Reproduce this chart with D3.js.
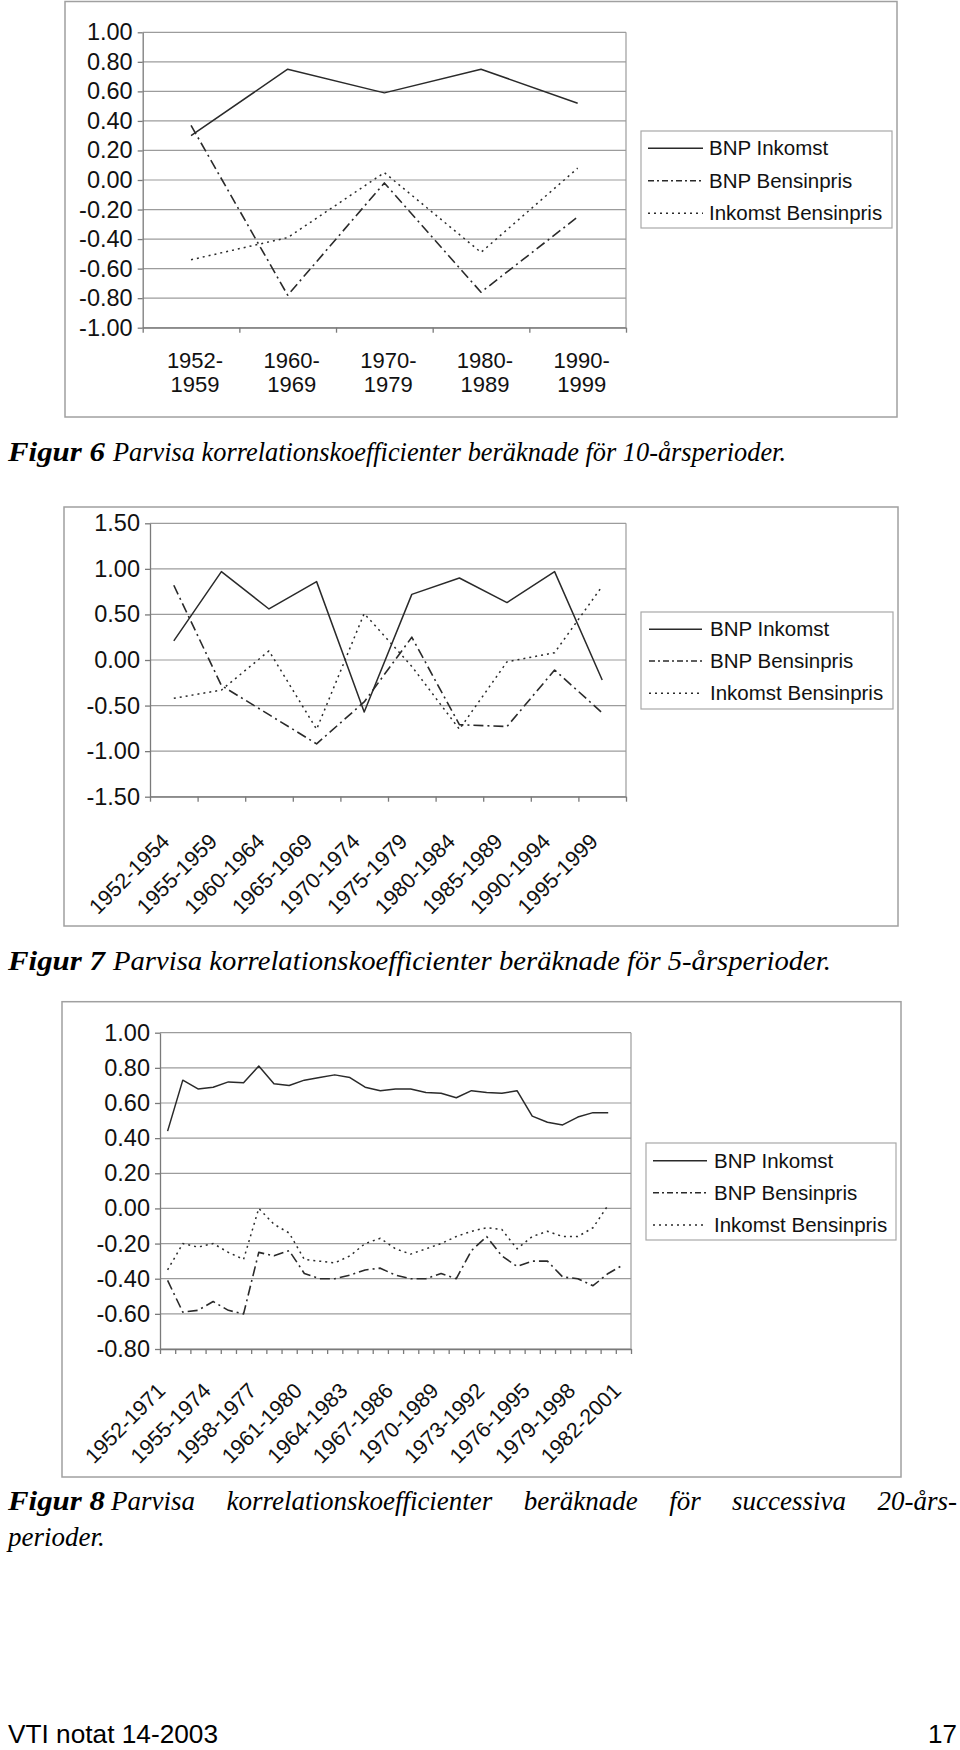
<!DOCTYPE html>
<html><head><meta charset="utf-8">
<script src="https://cdn.jsdelivr.net/npm/d3@7"></script>
<style>body{margin:0;background:#fff}svg{display:block}</style>
</head><body>
<svg id="page" width="960" height="1750"></svg>
<script>
// ---------------- DATA ----------------
const seriesNames = ["BNP Inkomst", "BNP Bensinpris", "Inkomst Bensinpris"];

// Figur 6 – 10-year periods
const fig6Periods = ["1952-1959", "1960-1969", "1970-1979", "1980-1989", "1990-1999"];
const fig6BnpInkomst = [0.30, 0.75, 0.59, 0.75, 0.52];
const fig6BnpBensinpris = [0.37, -0.78, -0.02, -0.76, -0.25];
const fig6InkomstBensinpris = [-0.54, -0.39, 0.05, -0.49, 0.08];
const fig6YTicks = [-1.0, -0.8, -0.6, -0.4, -0.2, 0, 0.2, 0.4, 0.6, 0.8, 1.0];

// Figur 7 – 5-year periods
const fig7Periods = ["1952-1954", "1955-1959", "1960-1964", "1965-1969", "1970-1974",
  "1975-1979", "1980-1984", "1985-1989", "1990-1994", "1995-1999"];
const fig7BnpInkomst = [0.21, 0.97, 0.56, 0.86, -0.57, 0.72, 0.90, 0.63, 0.97, -0.22];
const fig7BnpBensinpris = [0.82, -0.28, -0.60, -0.92, -0.46, 0.25, -0.71, -0.73, -0.11, -0.58];
const fig7InkomstBensinpris = [-0.42, -0.33, 0.10, -0.76, 0.51, -0.07, -0.76, -0.02, 0.08, 0.81];
const fig7YTicks = [-1.5, -1.0, -0.5, 0, 0.5, 1.0, 1.5];

// Figur 8 – successive 20-year periods
const fig8Periods = ["1952-1971", "1953-1972", "1954-1973", "1955-1974", "1956-1975", "1957-1976",
  "1958-1977", "1959-1978", "1960-1979", "1961-1980", "1962-1981", "1963-1982", "1964-1983",
  "1965-1984", "1966-1985", "1967-1986", "1968-1987", "1969-1988", "1970-1989", "1971-1990",
  "1972-1991", "1973-1992", "1974-1993", "1975-1994", "1976-1995", "1977-1996", "1978-1997",
  "1979-1998", "1980-1999", "1981-2000", "1982-2001"];
const fig8BnpInkomst = [0.44, 0.73, 0.68, 0.69, 0.72, 0.715, 0.81, 0.71, 0.70, 0.73, 0.745, 0.76,
  0.745, 0.69, 0.67, 0.68, 0.68, 0.66, 0.655, 0.63, 0.67, 0.66, 0.655, 0.67, 0.525, 0.49, 0.475,
  0.52, 0.545, 0.545];
const fig8BnpBensinpris = [-0.41, -0.59, -0.58, -0.53, -0.58, -0.60, -0.25, -0.27, -0.24, -0.37,
  -0.40, -0.40, -0.38, -0.35, -0.34, -0.38, -0.40, -0.40, -0.37, -0.40, -0.24, -0.16, -0.27,
  -0.33, -0.30, -0.30, -0.39, -0.40, -0.44, -0.37, -0.32];
const fig8InkomstBensinpris = [-0.35, -0.20, -0.22, -0.20, -0.25, -0.29, 0.00, -0.09, -0.14, -0.29,
  -0.30, -0.31, -0.27, -0.20, -0.17, -0.23, -0.26, -0.23, -0.20, -0.16, -0.13, -0.11, -0.12,
  -0.23, -0.16, -0.13, -0.16, -0.16, -0.11, 0.02];
const fig8YTicks = [-0.8, -0.6, -0.4, -0.2, 0, 0.2, 0.4, 0.6, 0.8, 1.0];

const captionBold = ["Figur 6", "Figur 7", "Figur 8"];
const captionRest = [
  "Parvisa korrelationskoefficienter beräknade för 10-årsperioder.",
  "Parvisa korrelationskoefficienter beräknade för 5-årsperioder."
];
const caption8Words = ["Parvisa", "korrelationskoefficienter", "beräknade", "för", "successiva", "20-års-"];
const caption8Line2 = "perioder.";
const footerLeft = "VTI notat 14-2003";
const footerRight = "17";

// ---------------- STYLE ----------------
const SANS = "'Liberation Sans', Arial, sans-serif";
const SERIF = "'Liberation Serif', 'Times New Roman', serif";
const seriesStyle = [
  {dash: null, width: 1.5},
  {dash: "10,4,2,4", width: 1.6},
  {dash: "2,4", width: 1.5}
];
const legendDash = [null, "6,3,2,3", "2,4"];
const LINE_COLOR = "#2a2a2a";
const GRID = "#9c9c9c";
const AXIS = "#7a7a7a";

const svg = d3.select("#page");

function drawChart(cfg) {
  const g = svg.append("g");
  const P = cfg.plot;
  g.append("rect")
    .attr("x", cfg.frame[0]).attr("y", cfg.frame[1])
    .attr("width", cfg.frame[2] - cfg.frame[0]).attr("height", cfg.frame[3] - cfg.frame[1])
    .attr("fill", "none").attr("stroke", "#a0a0a0").attr("stroke-width", 1.5);

  const x = d3.scaleBand().domain(cfg.categories).range([P.left, P.right]);
  const xi = d3.scaleLinear().domain([0, cfg.categories.length]).range([P.left, P.right]);
  const y = d3.scaleLinear().domain(cfg.yDomain).range([P.bottom, P.top]);
  const cx = c => x(c) + x.bandwidth() / 2;

  g.append("g").selectAll("line").data(cfg.yTicks).join("line")
    .attr("x1", P.left).attr("x2", P.right)
    .attr("y1", d => y(d)).attr("y2", d => y(d))
    .attr("stroke", GRID).attr("stroke-width", 1.2);
  g.append("line").attr("x1", P.right).attr("x2", P.right)
    .attr("y1", P.top).attr("y2", P.bottom).attr("stroke", GRID).attr("stroke-width", 1.2);

  const ya = g.append("g").attr("transform", `translate(${P.left},0)`)
    .call(d3.axisLeft(y).tickValues(cfg.yTicks).tickFormat(d => d.toFixed(2))
      .tickSize(5).tickSizeOuter(0).tickPadding(cfg.yPad));
  ya.selectAll("path,line").attr("stroke", AXIS).attr("stroke-width", 1.3);
  ya.selectAll("text").attr("font-family", SANS).attr("font-size", cfg.yFont).attr("fill", "#111");

  const xa = g.append("g").attr("transform", `translate(0,${P.bottom})`)
    .call(d3.axisBottom(xi).tickValues(d3.range(cfg.categories.length + 1))
      .tickFormat("").tickSize(5).tickSizeOuter(0));
  xa.selectAll("path,line").attr("stroke", AXIS).attr("stroke-width", 1.3);

  const labCats = cfg.categories.filter((c, i) => i % cfg.labelEvery === 0);
  if (cfg.labelMode === "twoLine") {
    const t = g.append("g").selectAll("text").data(labCats).join("text")
      .attr("font-family", SANS).attr("font-size", cfg.xFont).attr("fill", "#111")
      .attr("text-anchor", "middle");
    t.append("tspan").attr("x", d => cfg.labelDx + cx(d)).attr("y", P.bottom + cfg.labelDy1)
      .text(d => d.split("-")[0] + "-");
    t.append("tspan").attr("x", d => cfg.labelDx + cx(d)).attr("y", P.bottom + cfg.labelDy2)
      .text(d => d.split("-")[1]);
  } else {
    g.append("g").selectAll("text").data(labCats).join("text")
      .attr("font-family", SANS).attr("font-size", cfg.xFont).attr("fill", "#111")
      .attr("text-anchor", "end")
      .attr("transform", d => `translate(${cx(d) + cfg.labelDx},${P.bottom + cfg.labelDy1}) rotate(-45)`)
      .text(d => d);
  }

  cfg.series.forEach((vals, si) => {
    const pts = vals.map((v, i) => [cx(cfg.categories[i]), y(v)]);
    g.append("path").attr("d", d3.line()(pts))
      .attr("fill", "none").attr("stroke", LINE_COLOR)
      .attr("stroke-width", seriesStyle[si].width)
      .attr("stroke-dasharray", seriesStyle[si].dash)
      .attr("stroke-linejoin", "round");
  });

  const L = cfg.legend;
  g.append("rect").attr("x", L.box[0]).attr("y", L.box[1])
    .attr("width", L.box[2] - L.box[0]).attr("height", L.box[3] - L.box[1])
    .attr("fill", "#fff").attr("stroke", "#a8a8a8").attr("stroke-width", 1.2);
  seriesNames.forEach((name, i) => {
    g.append("line").attr("x1", L.lineX[0]).attr("x2", L.lineX[1])
      .attr("y1", L.rows[i]).attr("y2", L.rows[i])
      .attr("stroke", LINE_COLOR).attr("stroke-width", 1.4)
      .attr("stroke-dasharray", legendDash[i]);
    g.append("text").attr("x", L.textX).attr("y", L.rows[i]).attr("dy", "0.35em")
      .attr("font-family", SANS).attr("font-size", L.font).attr("fill", "#111").text(name);
  });
}

drawChart({
  frame: [65, 1.5, 897, 417],
  plot: {left: 142.7, right: 626, top: 32.3, bottom: 327.7},
  categories: fig6Periods, yDomain: [-1, 1], yTicks: fig6YTicks, yPad: 5, yFont: 23.5,
  series: [fig6BnpInkomst, fig6BnpBensinpris, fig6InkomstBensinpris],
  labelMode: "twoLine", labelEvery: 1, xFont: 22, labelDx: 4, labelDy1: 40, labelDy2: 64,
  legend: {box: [641, 131, 892, 228], rows: [148.3, 180.7, 213.3], lineX: [648, 703], textX: 709, font: 20.5}
});

drawChart({
  frame: [64, 507, 898, 926],
  plot: {left: 150, right: 626, top: 523.3, bottom: 796.7},
  categories: fig7Periods, yDomain: [-1.5, 1.5], yTicks: fig7YTicks, yPad: 5, yFont: 23.5,
  series: [fig7BnpInkomst, fig7BnpBensinpris, fig7InkomstBensinpris],
  labelMode: "rotated", labelEvery: 1, xFont: 21.5, labelDx: -3, labelDy1: 46,
  legend: {box: [641, 612, 893, 709], rows: [629.3, 661, 693.3], lineX: [649, 702], textX: 710, font: 20.5}
});

drawChart({
  frame: [62, 1001.7, 901, 1477],
  plot: {left: 160, right: 631, top: 1032.7, bottom: 1349},
  categories: fig8Periods, yDomain: [-0.8, 1.0], yTicks: fig8YTicks, yPad: 5, yFont: 23.5,
  series: [fig8BnpInkomst, fig8BnpBensinpris, fig8InkomstBensinpris],
  labelMode: "rotated", labelEvery: 3, xFont: 21.5, labelDx: -1, labelDy1: 43,
  legend: {box: [646, 1143, 896, 1240], rows: [1160.7, 1192.7, 1225], lineX: [653, 707], textX: 714, font: 20.5}
});

// ---------------- CAPTIONS ----------------
function serifText(x, y, txt, bold, len) {
  const t = svg.append("text").attr("x", x).attr("y", y)
    .attr("font-family", SERIF).attr("font-size", 27).attr("font-style", "italic")
    .attr("fill", "#000").text(txt);
  if (bold) t.attr("font-weight", "bold");
  if (len) t.attr("textLength", len).attr("lengthAdjust", "spacingAndGlyphs");
  return t;
}
serifText(8, 461, captionBold[0], true, 97);
serifText(113, 461, captionRest[0], false, 673);
serifText(8, 970, captionBold[1], true, 97);
serifText(113, 970, captionRest[1], false, 718);

(function () {
  const yBase = 1510, left = 8, right = 957;
  serifText(left, yBase, captionBold[2], true, 97);
  const nodes = caption8Words.map(w => serifText(0, yBase, w, false, null));
  const ws = nodes.map(n => n.node().getComputedTextLength());
  const start = left + 97 + 6;
  const gap = (right - start - d3.sum(ws)) / (nodes.length - 1);
  let xpos = start;
  nodes.forEach((n, i) => { n.attr("x", xpos); xpos += ws[i] + gap; });
  serifText(left, 1546, caption8Line2, false, null);
})();

svg.append("text").attr("x", 8).attr("y", 1743).attr("font-family", SANS).attr("font-size", 26)
  .attr("textLength", 210).attr("lengthAdjust", "spacingAndGlyphs").attr("fill", "#000").text(footerLeft);
svg.append("text").attr("x", 957).attr("y", 1743).attr("text-anchor", "end").attr("font-family", SANS)
  .attr("font-size", 26).attr("fill", "#000").text(footerRight);
</script>
</body></html>
